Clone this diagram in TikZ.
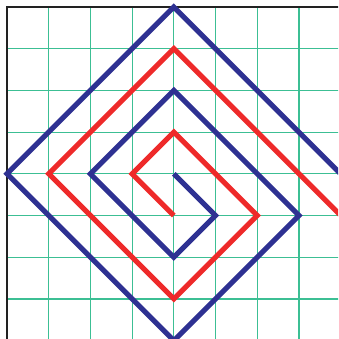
\documentclass[tikz,border=0pt]{standalone}
\usepackage{tikz}
\definecolor{spBlue}{HTML}{2E3192}
\definecolor{spRed}{HTML}{EE2A2A}
\definecolor{spGrid}{HTML}{3CBF94}
\definecolor{spFrame}{HTML}{222222}

\begin{document}
\begin{tikzpicture}[
      gridline/.style={draw=spGrid, line width=0.8pt},
      frameline/.style={draw=spFrame, line width=1.5pt},
      spiralblue/.style={draw=spBlue, line width=3.5pt},
      spiralred/.style={draw=spRed, line width=3.5pt}]
    \useasboundingbox (-0.168,0.04) rectangle (7.94,8.168);
    \clip (-0.168,0.04) rectangle (7.94,8.168);
    % grid
    \foreach \k in {1,...,7}
      \draw[gridline] (\k,-0.5) -- (\k,8);
    \foreach \k in {0,...,7}
      \draw[gridline] (0,\k) -- (8.5,\k);
    % frame on top and left
    \draw[frameline] (0,-0.5) -- (0,8) -- (8.5,8);
    % red spiral
    \draw[spiralred] (4,3) -- (3,4) -- (4,5) -- (6,3) -- (4,1) -- (1,4)
      -- (4,7) -- (8.5,2.5);
    % blue spiral
    \draw[spiralblue] (4,4) -- (5,3) -- (4,2) -- (2,4) -- (4,6) -- (7,3)
      -- (4,0) -- (0,4) -- (4,8) -- (8.5,3.5);
  \end{tikzpicture}
\end{document}
